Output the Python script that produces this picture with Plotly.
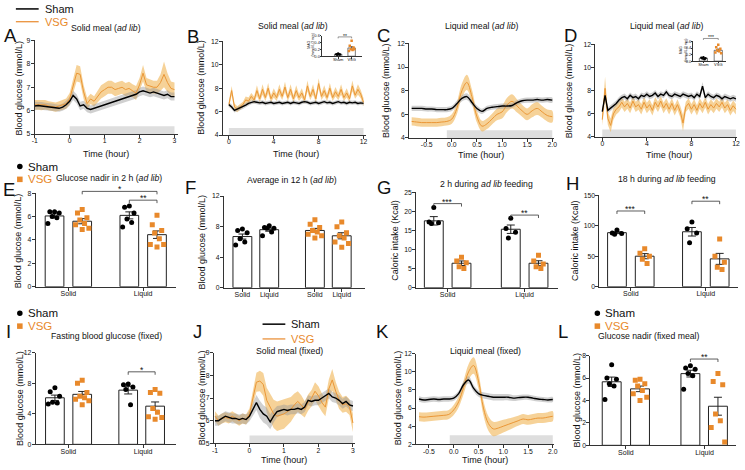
import plotly.graph_objects as go

W, H = 745, 470
FONT = "Liberation Sans, Arial, Helvetica, sans-serif"
ORANGE = "#E8892B"
ORANGE_LINE = "#EA9636"
ORANGE_BAND = "rgba(241,182,88,0.62)"
GRAY_BAND = "rgba(150,150,150,0.45)"
MEAL_FILL = "#DEDEDE"
AXC = "#333333"

# ======================= DATA =======================
# ---- A: Solid meal (ad lib), -1..3 h ----
A_time = [round(-1.0 + 0.1 * i, 1) for i in range(41)]
A_sham = [6.20, 6.22, 6.20, 6.18, 6.17, 6.15, 6.12, 6.10, 6.15, 6.25,
          6.40, 6.65, 6.50, 6.20, 6.25, 6.10, 6.05, 6.10, 6.15, 6.20,
          6.25, 6.30, 6.35, 6.40, 6.45, 6.50, 6.55, 6.60, 6.65, 6.70,
          6.80, 6.85, 6.80, 6.75, 6.80, 6.75, 6.70, 6.65, 6.70, 6.60,
          6.60]
A_sham_sem = [0.18, 0.17, 0.17, 0.16, 0.16, 0.15, 0.15, 0.15, 0.16, 0.17,
              0.18, 0.20, 0.20, 0.18, 0.17, 0.17, 0.17, 0.17, 0.17, 0.18,
              0.18, 0.18, 0.18, 0.18, 0.18, 0.18, 0.18, 0.18, 0.18, 0.18,
              0.18, 0.18, 0.18, 0.18, 0.18, 0.18, 0.17, 0.17, 0.17, 0.17,
              0.17]
A_vsg = [6.25, 6.25, 6.22, 6.25, 6.20, 6.18, 6.15, 6.20, 6.25, 6.30,
         6.50, 7.10, 7.60, 7.55, 6.80, 6.30, 6.50, 6.40, 6.60, 6.80,
         6.90, 7.00, 7.00, 6.90, 6.95, 7.00, 6.90, 6.95, 6.85, 6.75,
         7.10, 7.60, 7.10, 7.05, 7.00, 7.00, 7.20, 7.55, 7.20, 6.95,
         6.90]
A_vsg_sem = [0.20, 0.20, 0.20, 0.20, 0.20, 0.20, 0.20, 0.20, 0.20, 0.22,
             0.25, 0.30, 0.35, 0.35, 0.30, 0.25, 0.22, 0.22, 0.25, 0.28,
             0.28, 0.28, 0.28, 0.28, 0.28, 0.28, 0.28, 0.28, 0.28, 0.30,
             0.30, 0.35, 0.30, 0.30, 0.28, 0.28, 0.35, 0.55, 0.40, 0.30,
             0.30]

# ---- B: Solid meal (ad lib), 0..12 h ----
B_time = [0.25 * i for i in range(49)]
B_sham = [6.60, 6.40, 6.10, 6.20, 6.30, 6.40, 6.55, 6.70,
          6.80, 6.85, 6.80, 6.75, 6.80, 6.70, 6.75, 6.80,
          6.70, 6.75, 6.80, 6.70, 6.75, 6.80, 6.70, 6.80,
          6.75, 6.70, 6.80, 6.85, 6.80, 6.70, 6.75, 6.80,
          6.70, 6.80, 6.85, 6.75, 6.80, 6.70, 6.80, 6.85,
          6.75, 6.80, 6.70, 6.80, 6.75, 6.80, 6.70, 6.75,
          6.70]
B_sham_sem = [0.20, 0.20, 0.18, 0.18, 0.18, 0.18, 0.18, 0.18,
              0.18, 0.18, 0.18, 0.18, 0.18, 0.18, 0.18, 0.18,
              0.17, 0.17, 0.17, 0.17, 0.17, 0.17, 0.17, 0.17,
              0.17, 0.17, 0.17, 0.17, 0.17, 0.17, 0.17, 0.17,
              0.17, 0.17, 0.17, 0.17, 0.17, 0.17, 0.17, 0.17,
              0.17, 0.17, 0.17, 0.17, 0.17, 0.17, 0.17, 0.17,
              0.18]
B_vsg = [6.60, 7.80, 6.40, 6.20, 6.40, 6.60, 7.00, 6.90,
         7.30, 7.00, 7.80, 7.10, 7.90, 7.20, 8.00, 7.10,
         7.60, 7.20, 7.90, 7.30, 8.10, 7.20, 7.90, 7.10,
         7.80, 7.20, 7.60, 7.00, 8.20, 7.30, 7.90, 7.10,
         8.40, 7.30, 7.80, 7.20, 8.00, 7.20, 7.70, 7.30,
         7.90, 7.20, 7.60, 7.10, 8.20, 7.40, 7.90, 7.50,
         6.80]
B_vsg_sem = [0.30, 0.40, 0.30, 0.25, 0.25, 0.25, 0.30, 0.30,
             0.30, 0.30, 0.45, 0.30, 0.45, 0.30, 0.45, 0.30,
             0.40, 0.30, 0.45, 0.30, 0.45, 0.30, 0.45, 0.30,
             0.45, 0.30, 0.40, 0.30, 0.45, 0.30, 0.45, 0.30,
             0.45, 0.30, 0.45, 0.30, 0.45, 0.30, 0.40, 0.30,
             0.45, 0.30, 0.40, 0.30, 0.45, 0.30, 0.45, 0.35,
             0.35]
B_mag_sham = [0.08, 0.06, 0.05, 0.04, 0.05]
B_mag_vsg = [0.45, 0.30, 0.25, 0.20, 0.18, 0.15, 0.20]
B_mag_means = [0.06, 0.24]
B_mag_sems = [0.01, 0.04]

# ---- C: Liquid meal (ad lib), -0.8..2.0 h ----
C_time = [round(-0.8 + 0.1 * i, 1) for i in range(29)]
C_sham = [6.50, 6.50, 6.50, 6.45, 6.45, 6.40, 6.40, 6.40, 6.50, 6.90,
          7.35, 7.50, 7.00, 6.50, 6.25, 6.50, 6.60, 6.65, 6.70, 6.70,
          6.75, 7.00, 7.15, 7.20, 7.20, 7.25, 7.20, 7.25, 7.20]
C_sham_sem = [0.22, 0.22, 0.22, 0.22, 0.22, 0.22, 0.22, 0.22, 0.22, 0.24,
              0.26, 0.28, 0.26, 0.24, 0.22, 0.22, 0.22, 0.22, 0.22, 0.22,
              0.22, 0.22, 0.22, 0.22, 0.22, 0.22, 0.22, 0.22, 0.22]
C_vsg = [5.40, 5.35, 5.30, 5.30, 5.30, 5.30, 5.35, 5.40, 5.60, 6.50,
         8.00, 8.70, 7.50, 5.80, 5.00, 5.20, 5.60, 6.00, 6.20, 6.80,
         7.10, 6.70, 6.30, 6.00, 6.30, 6.50, 6.20, 5.90, 5.80]
C_vsg_sem = [0.35, 0.35, 0.35, 0.35, 0.35, 0.35, 0.35, 0.35, 0.40, 0.50,
             0.60, 0.65, 0.60, 0.50, 0.45, 0.45, 0.45, 0.50, 0.55, 0.60,
             0.60, 0.55, 0.50, 0.50, 0.55, 0.55, 0.50, 0.50, 0.50]

# ---- D: Liquid meal (ad lib), 0..12 h ----
D_time = [0.25 * i for i in range(49)]
D_sham = [6.20, 7.60, 6.30, 6.50, 6.70, 6.90, 7.20, 7.40,
          7.50, 7.30, 7.60, 7.40, 7.50, 7.30, 7.60, 7.50,
          7.70, 7.50, 7.60, 7.80, 7.50, 7.70, 7.60, 7.90,
          7.60, 7.50, 7.70, 7.60, 7.50, 7.70, 7.60, 7.50,
          7.60, 7.40, 7.70, 7.50, 8.40, 7.40, 7.70, 7.50,
          7.40, 7.60, 7.50, 7.30, 7.50, 7.40, 7.30, 7.40,
          7.30]
D_sham_sem = [0.25, 0.30, 0.25, 0.25, 0.25, 0.25, 0.25, 0.25,
              0.25, 0.25, 0.25, 0.25, 0.25, 0.25, 0.25, 0.25,
              0.25, 0.25, 0.25, 0.25, 0.25, 0.25, 0.25, 0.25,
              0.25, 0.25, 0.25, 0.25, 0.25, 0.25, 0.25, 0.25,
              0.25, 0.25, 0.25, 0.25, 0.35, 0.25, 0.25, 0.25,
              0.25, 0.25, 0.25, 0.25, 0.25, 0.25, 0.25, 0.25,
              0.25]
D_vsg = [5.50, 8.20, 5.60, 5.00, 6.00, 6.40, 6.60, 7.00,
         6.60, 6.90, 6.50, 7.10, 6.60, 6.80, 6.40, 7.00,
         6.50, 6.80, 6.30, 7.00, 6.60, 7.10, 6.50, 6.90,
         6.40, 6.90, 6.30, 6.80, 6.20, 5.20, 6.60, 6.90,
         6.40, 6.80, 6.30, 6.90, 6.50, 7.00, 6.40, 6.80,
         6.50, 6.90, 6.60, 7.00, 6.50, 6.80, 6.30, 6.70,
         6.40]
D_vsg_sem = [0.50, 1.00, 0.55, 0.60, 0.50, 0.45, 0.45, 0.45,
             0.45, 0.45, 0.45, 0.45, 0.45, 0.45, 0.45, 0.45,
             0.45, 0.45, 0.45, 0.45, 0.45, 0.45, 0.45, 0.45,
             0.45, 0.45, 0.45, 0.45, 0.50, 0.70, 0.45, 0.45,
             0.45, 0.45, 0.45, 0.45, 0.45, 0.45, 0.45, 0.45,
             0.45, 0.45, 0.45, 0.45, 0.45, 0.45, 0.45, 0.45,
             0.45]
D_mag_sham = [0.12, 0.10, 0.09, 0.08, 0.06]
D_mag_vsg = [0.50, 0.42, 0.38, 0.33, 0.30, 0.26, 0.24]
D_mag_means = [0.09, 0.33]
D_mag_sems = [0.01, 0.04]

# ---- E: Glucose nadir in 2 h (ad lib) ----
E_pts = {
    "sham_solid": [6.4, 6.4, 6.3, 6.0, 5.9, 5.4],
    "vsg_solid": [6.6, 6.3, 5.9, 5.7, 5.4, 5.3, 5.0, 4.9],
    "sham_liquid": [6.9, 6.8, 6.3, 5.8, 5.5, 5.1],
    "vsg_liquid": [6.1, 5.3, 4.8, 4.6, 4.1, 3.6, 3.6, 3.4],
}
E_means = [6.05, 5.6, 6.1, 4.45]
E_sems = [0.17, 0.22, 0.30, 0.32]

# ---- F: Average in 12 h (ad lib) ----
F_pts = {
    "sham_solid": [7.7, 7.5, 7.2, 6.4, 6.0, 5.6],
    "sham_liquid": [8.1, 7.9, 7.8, 7.8, 7.3, 6.8],
    "vsg_solid": [8.9, 8.3, 7.9, 7.5, 7.3, 7.0, 6.8, 6.5],
    "vsg_liquid": [8.6, 8.0, 7.2, 6.8, 6.5, 6.0, 5.8, 5.3],
}
F_means = [6.7, 7.6, 7.5, 6.8]
F_sems = [0.33, 0.20, 0.27, 0.40]

# ---- G: 2 h during ad lib feeding (Kcal) ----
G_pts = {
    "sham_solid": [21.0, 17.2, 17.0, 16.8],
    "vsg_solid": [8.0, 7.0, 6.5, 5.5, 5.0],
    "sham_liquid": [18.2, 15.5, 14.5, 13.0],
    "vsg_liquid": [8.5, 7.0, 6.2, 5.5, 5.0],
}
G_means = [17.5, 6.4, 15.3, 6.4]
G_sems = [1.1, 0.6, 1.1, 0.65]

# ---- H: 18 h during ad lib feeding (Kcal) ----
H_pts = {
    "sham_solid": [93, 88, 87, 86],
    "vsg_solid": [62, 55, 50, 45, 38],
    "sham_liquid": [106, 95, 88, 72],
    "vsg_liquid": [78, 50, 40, 32, 28],
}
H_means = [88.5, 50, 90, 45.6]
H_sems = [1.5, 4.2, 7.0, 9.0]

# ---- I: Fasting blood glucose (fixed) ----
I_pts = {
    "sham_solid": [7.4, 6.9, 6.3, 5.5, 5.4, 5.3],
    "vsg_solid": [8.4, 8.0, 6.8, 6.3, 6.1, 5.9, 5.7, 5.2],
    "sham_liquid": [7.9, 7.8, 7.5, 7.2, 5.2],
    "vsg_liquid": [7.2, 6.8, 6.7, 4.7, 4.2, 3.6, 3.5, 3.3],
}
I_means = [6.1, 6.55, 7.1, 5.0]
I_sems = [0.35, 0.38, 0.50, 0.55]

# ---- J: Solid meal (fixed), -1..3 h ----
J_time = [round(-1.0 + 0.1 * i, 1) for i in range(41)]
J_sham = [6.00, 6.00, 6.10, 6.20, 6.15, 6.10, 6.10, 6.05, 6.10, 6.05,
          6.20, 6.50, 6.80, 6.50, 6.30, 6.20, 5.95, 6.20, 6.40, 6.45,
          6.50, 6.45, 6.50, 6.50, 6.55, 6.50, 6.60, 6.90, 6.85, 6.90,
          6.90, 7.00, 7.10, 7.20, 7.05, 7.00, 6.90, 6.75, 6.85, 6.70,
          6.65]
J_sham_sem = [0.22, 0.22, 0.22, 0.22, 0.22, 0.22, 0.22, 0.22, 0.22, 0.22,
              0.22, 0.28, 0.33, 0.38, 0.38, 0.38, 0.33, 0.28, 0.25, 0.22,
              0.22, 0.22, 0.22, 0.22, 0.22, 0.22, 0.22, 0.22, 0.22, 0.22,
              0.22, 0.22, 0.22, 0.22, 0.22, 0.22, 0.22, 0.22, 0.22, 0.22,
              0.22]
J_vsg = [6.20, 6.00, 6.10, 6.15, 6.10, 6.20, 6.10, 6.00, 6.10, 6.05,
         6.30, 7.00, 7.70, 7.75, 7.60, 6.90, 6.60, 6.30, 6.20, 6.25,
         6.30, 6.40, 6.50, 6.70, 6.85, 6.70, 6.50, 6.80, 7.00, 7.30,
         7.10, 6.80, 6.60, 7.40, 7.80, 7.30, 6.90, 6.70, 6.75, 6.60,
         5.90]
J_vsg_sem = [0.22, 0.22, 0.22, 0.22, 0.22, 0.22, 0.22, 0.22, 0.22, 0.22,
             0.25, 0.35, 0.42, 0.45, 0.50, 0.55, 0.60, 0.62, 0.65, 0.65,
             0.65, 0.60, 0.55, 0.50, 0.45, 0.42, 0.36, 0.36, 0.36, 0.40,
             0.42, 0.40, 0.40, 0.42, 0.48, 0.42, 0.38, 0.35, 0.35, 0.35,
             0.40]

# ---- K: Liquid meal (fixed), -0.7..2.0 h ----
K_time = [round(-0.7 + 0.1 * i, 1) for i in range(28)]
K_sham = [7.00, 6.90, 6.95, 7.00, 6.95, 7.00, 7.00, 7.10, 7.60, 8.60,
          9.10, 8.20, 7.60, 7.40, 7.30, 7.20, 7.20, 7.20, 7.20, 7.10,
          7.15, 7.20, 7.20, 7.10, 7.00, 6.95, 6.90, 6.95]
K_sham_sem = [0.30, 0.30, 0.30, 0.30, 0.30, 0.30, 0.30, 0.30, 0.32, 0.35,
              0.40, 0.38, 0.35, 0.35, 0.35, 0.35, 0.35, 0.35, 0.35, 0.32,
              0.30, 0.30, 0.30, 0.28, 0.28, 0.28, 0.28, 0.28]
K_vsg = [5.05, 5.00, 5.05, 5.10, 5.15, 5.20, 5.30, 5.80, 6.70, 8.30,
         10.00, 10.70, 9.00, 6.00, 4.30, 3.70, 3.80, 4.00, 4.20, 4.40,
         4.60, 4.80, 4.70, 4.80, 4.90, 4.90, 5.00, 5.10]
K_vsg_sem = [0.50, 0.50, 0.50, 0.50, 0.50, 0.50, 0.50, 0.55, 0.60, 0.75,
             0.85, 0.90, 0.85, 0.80, 0.80, 0.80, 0.75, 0.70, 0.65, 0.60,
             0.55, 0.55, 0.55, 0.55, 0.55, 0.55, 0.55, 0.55]

# ---- L: Glucose nadir (fixed meal) ----
L_pts = {
    "sham_solid": [7.2, 6.0, 5.9, 5.5, 5.3, 4.1],
    "vsg_solid": [5.9, 5.8, 5.5, 5.3, 4.9, 4.6, 4.3, 4.0],
    "sham_liquid": [7.1, 6.9, 6.8, 6.4, 6.2, 5.0],
    "vsg_liquid": [6.4, 5.7, 5.4, 2.8, 2.2, 1.6, 0.3],
}
L_means = [5.67, 5.04, 6.4, 3.49]
L_sems = [0.42, 0.25, 0.30, 0.80]

# tick labels
CAT_LABELS = ["Solid", "Liquid"]
F_LABELS = ["Solid", "Liquid", "Solid", "Liquid"]
INSET_LABELS = ["Sham", "VSG"]

for name, a, b in [("A", A_sham, A_time), ("A2", A_vsg, A_time), ("B", B_sham, B_time), ("B2", B_vsg, B_time),
                   ("C", C_sham, C_time), ("C2", C_vsg, C_time), ("D", D_sham, D_time), ("D2", D_vsg, D_time),
                   ("J", J_sham, J_time), ("J2", J_vsg, J_time), ("K", K_sham, K_time), ("K2", K_vsg, K_time),
                   ("As", A_sham_sem, A_time), ("As2", A_vsg_sem, A_time), ("Bs", B_sham_sem, B_time),
                   ("Bs2", B_vsg_sem, B_time), ("Cs", C_sham_sem, C_time), ("Cs2", C_vsg_sem, C_time),
                   ("Ds", D_sham_sem, D_time), ("Ds2", D_vsg_sem, D_time), ("Js", J_sham_sem, J_time),
                   ("Js2", J_vsg_sem, J_time), ("Ks", K_sham_sem, K_time), ("Ks2", K_vsg_sem, K_time)]:
    if len(a) != len(b):
        raise ValueError(f"length mismatch {name}: {len(a)} vs {len(b)}")

# ======================= FIGURE =======================
fig = go.Figure()
layout = {}
shapes = []
annotations = []
AXES = {}


def ref(i):
    return ("x" if i == 1 else f"x{i}"), ("y" if i == 1 else f"y{i}")


def make_axes(i, l, r, t, b, xr, yr, xtv, xtt, ytv, ytt, tsize=6.8, xtsize=None, ticklen=3, lw=1,
              xstand=-3, ystand=-1):
    xa = "xaxis" if i == 1 else f"xaxis{i}"
    ya = "yaxis" if i == 1 else f"yaxis{i}"
    xr_, yr_ = ref(i)
    AXES[i] = (l, r, t, b, xr, yr)
    common = dict(showline=True, linecolor=AXC, linewidth=lw, ticks="outside", ticklen=ticklen,
                  tickwidth=lw, tickcolor=AXC, showgrid=False, zeroline=False, fixedrange=True)
    layout[xa] = dict(domain=[l / W, r / W], range=xr, anchor=yr_, tickmode="array", tickvals=xtv,
                      ticktext=xtt, ticklabelstandoff=xstand,
                      tickfont=dict(family=FONT, size=xtsize or tsize, color="#111"), **common)
    layout[ya] = dict(domain=[1 - b / H, 1 - t / H], range=yr, anchor=xr_, tickmode="array", tickvals=ytv,
                      ticktext=ytt, ticklabelstandoff=ystand,
                      tickfont=dict(family=FONT, size=tsize, color="#111"), **common)


def pxx(i, x):
    l, r, t, b, xr, yr = AXES[i]
    return l + (x - xr[0]) / (xr[1] - xr[0]) * (r - l)


def pxy(i, y):
    l, r, t, b, xr, yr = AXES[i]
    return b - (y - yr[0]) / (yr[1] - yr[0]) * (b - t)


def text(s, x, y, size, color="#111", xa="center", ya="middle", angle=0):
    annotations.append(dict(text=s, x=x / W, y=1 - y / H, xref="paper", yref="paper", showarrow=False,
                            xanchor=xa, yanchor=ya, textangle=angle,
                            font=dict(family=FONT, size=size, color=color)))


def band_line(i, t, mean, sem, line_color, band_color, lw, smooth=False):
    xr_, yr_ = ref(i)
    up = [m + s for m, s in zip(mean, sem)]
    lo = [m - s for m, s in zip(mean, sem)]
    shape = "spline" if smooth else "linear"
    fig.add_trace(go.Scatter(x=list(t) + list(t)[::-1], y=up + lo[::-1], fill="toself", fillcolor=band_color,
                             mode="lines", line=dict(width=0, shape=shape), xaxis=xr_, yaxis=yr_,
                             hoverinfo="skip", showlegend=False))
    return dict(x=list(t), y=mean, mode="lines", line=dict(color=line_color, width=lw, shape=shape),
                xaxis=xr_, yaxis=yr_, hoverinfo="skip", showlegend=False)


def ts_panel(i, t, sham, sham_sem, vsg, vsg_sem, smooth=False):
    l1 = band_line(i, t, vsg, vsg_sem, ORANGE_LINE, ORANGE_BAND, 1.0, smooth)
    l2 = band_line(i, t, sham, sham_sem, "#000", GRAY_BAND, 1.4, smooth)
    fig.add_trace(go.Scatter(**l1))
    fig.add_trace(go.Scatter(**l2))


def meal(i, x0, x1, y0, y1):
    xr_, yr_ = ref(i)
    shapes.append(dict(type="rect", xref=xr_, yref=yr_, x0=x0, x1=x1, y0=y0, y1=y1,
                       fillcolor=MEAL_FILL, line=dict(width=0), layer="below"))


PATTERN = [0.0, -0.6, 0.6, -0.3, 0.3, -0.85, 0.85, 0.0, -0.45, 0.45]


def bar_group(i, pos, mean, sem, pts, sham, bw, msize=5, blw=1.0, ew=4):
    xr_, yr_ = ref(i)
    fig.add_trace(go.Bar(x=[pos], y=[mean], width=bw, xaxis=xr_, yaxis=yr_,
                         marker=dict(color="white", line=dict(color="#222", width=blw)),
                         error_y=dict(type="data", array=[sem], color="#222", thickness=blw, width=ew),
                         hoverinfo="skip", showlegend=False))
    offs = [pos + PATTERN[k % len(PATTERN)] * bw * 0.42 for k in range(len(pts))]
    fig.add_trace(go.Scatter(x=offs, y=pts, mode="markers", xaxis=xr_, yaxis=yr_,
                             marker=dict(symbol="circle" if sham else "square", size=msize,
                                         color="#000" if sham else ORANGE, line=dict(width=0)),
                             hoverinfo="skip", showlegend=False))


def bracket(i, x1, x2, yv, s, drop=3, size=8.5, lw=0.8):
    X1, X2, Yp = pxx(i, x1), pxx(i, x2), pxy(i, yv)
    path = (f"M {X1 / W},{1 - (Yp + drop) / H} L {X1 / W},{1 - Yp / H} "
            f"L {X2 / W},{1 - Yp / H} L {X2 / W},{1 - (Yp + drop) / H}")
    shapes.append(dict(type="path", xref="paper", yref="paper", path=path, line=dict(color=AXC, width=lw)))
    # asterisks sit high in their line box: anchor the box middle just above the bar
    text(s, (X1 + X2) / 2, Yp - 0.25 * size, size, ya="middle")


def legend_lines(x, y1, y2, size=11):
    shapes.append(dict(type="line", xref="paper", yref="paper", x0=x / W, x1=(x + 23) / W,
                       y0=1 - y1 / H, y1=1 - y1 / H, line=dict(color="#000", width=1.5)))
    shapes.append(dict(type="line", xref="paper", yref="paper", x0=x / W, x1=(x + 23) / W,
                       y0=1 - y2 / H, y1=1 - y2 / H, line=dict(color=ORANGE, width=1.2)))
    text("Sham", x + 27, y1, size, "#111", xa="left")
    text("VSG", x + 27, y2, size, ORANGE, xa="left")


def legend_marks(x, y1, y2, size=11.5):
    r = 2.8
    shapes.append(dict(type="circle", xref="paper", yref="paper", x0=(x - r) / W, x1=(x + r) / W,
                       y0=1 - (y1 + r) / H, y1=1 - (y1 - r) / H, fillcolor="#000", line=dict(width=0)))
    shapes.append(dict(type="rect", xref="paper", yref="paper", x0=(x - r) / W, x1=(x + r) / W,
                       y0=1 - (y2 + r) / H, y1=1 - (y2 - r) / H, fillcolor=ORANGE, line=dict(width=0)))
    text("Sham", x + 6, y1, size, "#111", xa="left")
    text("VSG", x + 6, y2, size, ORANGE, xa="left")


def bar_panel(i, positions, means, sems, pts_dict, order, bw):
    for k, key in enumerate(order):
        bar_group(i, positions[k], means[k], sems[k], pts_dict[key], key.startswith("sham"), bw)


YLAB = "Blood glucose (mmol/L)"
TLAB = "Time (hour)"
TITLE_SIZE = 8.7
AXT_SIZE = 9
LET_SIZE = 18.5

# ---------------- Row 1 ----------------
# A
make_axes(1, 32, 177, 37, 132, [-1.0, 3.11], [5, 9], [-1, 0, 1, 2, 3], ["-1", "0", "1", "2", "3"],
          [5, 6, 7, 8, 9], ["5", "6", "7", "8", "9"])
meal(1, 0, 3, 5, 5.33)
ts_panel(1, A_time, A_sham, A_sham_sem, A_vsg, A_vsg_sem)
text(YLAB, 16, 85, AXT_SIZE, angle=-90)
text(TLAB, 104, 152, AXT_SIZE)
text("Solid meal (<i>ad lib</i>)", 104, 24, TITLE_SIZE)
text("A", 7.5, 31.5, LET_SIZE)
legend_lines(13, 5, 18)

# B
make_axes(2, 222, 366, 38, 133, [-0.53, 12.18], [4, 12], [0, 4, 8, 12], ["0", "4", "8", "12"],
          [4, 6, 8, 10, 12], ["4", "6", "8", "10", "12"])
meal(2, 0, 12, 4, 4.6)
ts_panel(2, B_time, B_sham, B_sham_sem, B_vsg, B_vsg_sem)
text(YLAB, 200, 85, AXT_SIZE, angle=-90)
text(TLAB, 296, 152, AXT_SIZE)
text("Solid meal (<i>ad lib</i>)", 293, 22, TITLE_SIZE)
text("B", 192, 32.5, LET_SIZE)

# B inset
make_axes(3, 322, 362, 32, 53, [-1.2, 1.74], [0, 0.6], [0, 1], INSET_LABELS,
          [0, 0.2, 0.4, 0.6], ["0.0", "0.2", "0.4", "0.6"], tsize=4, ticklen=1.5, lw=0.6, xstand=-2, ystand=-1)
for k in range(2):
    bar_group(3, k, B_mag_means[k], B_mag_sems[k], [B_mag_sham, B_mag_vsg][k], k == 0, 0.55,
              msize=2.5, blw=0.6, ew=1.5)
bracket(3, 0, 1, 0.56, "**", drop=1.5, size=5, lw=0.5)
text("MAG<br>(mmol/L/2 min)", 311, 42, 3.5, angle=-90)

# C
make_axes(4, 410, 556, 40, 136, [-0.85, 2.03], [4, 12], [-0.5, 0, 0.5, 1.0, 1.5, 2.0],
          ["-0.5", "0.0", "0.5", "1.0", "1.5", "2.0"], [4, 6, 8, 10, 12], ["4", "6", "8", "10", "12"])
meal(4, -0.1, 2.0, 4, 4.65)
ts_panel(4, C_time, C_sham, C_sham_sem, C_vsg, C_vsg_sem, smooth=True)
text(YLAB, 386, 88, AXT_SIZE, angle=-90)
text(TLAB, 483, 153, AXT_SIZE)
text("Liquid meal (<i>ad lib</i>)", 484, 22, TITLE_SIZE)
text("C", 384, 32, LET_SIZE)

# D
make_axes(5, 598, 741, 41, 135, [-0.62, 12.1], [4, 12], [0, 4, 8, 12], ["0", "4", "8", "12"],
          [4, 6, 8, 10, 12], ["4", "6", "8", "10", "12"])
meal(5, 0, 12, 4, 4.65)
ts_panel(5, D_time, D_sham, D_sham_sem, D_vsg, D_vsg_sem)
text(YLAB, 571, 88, AXT_SIZE, angle=-90)
text(TLAB, 672, 153, AXT_SIZE)
text("Liquid meal (<i>ad lib</i>)", 670, 22.5, TITLE_SIZE)
text("D", 573, 32, LET_SIZE)

# D inset
make_axes(6, 697, 730, 38, 58, [-0.67, 1.53], [0, 0.6], [0, 1], INSET_LABELS,
          [0, 0.2, 0.4, 0.6], ["0.0", "0.2", "0.4", "0.6"], tsize=4, ticklen=1.5, lw=0.6, xstand=-2, ystand=-1)
for k in range(2):
    bar_group(6, k, D_mag_means[k], D_mag_sems[k], [D_mag_sham, D_mag_vsg][k], k == 0, 0.55,
              msize=2.5, blw=0.6, ew=1.5)
bracket(6, 0, 1, 0.69, "***", drop=1.5, size=5, lw=0.5)
text("MAG<br>(mmol/L/2 min)", 687, 47, 3.5, angle=-90)

# ---------------- Row 2 ----------------
ORDER_SV = ["sham_solid", "vsg_solid", "sham_liquid", "vsg_liquid"]
POS_GRP = [-0.185, 0.185, 0.815, 1.185]

# E
make_axes(7, 33, 175, 192, 287, [-0.437, 1.444], [0, 8], [0, 1], CAT_LABELS,
          [0, 2, 4, 6, 8], ["0", "2", "4", "6", "8"], xtsize=7)
bar_panel(7, POS_GRP, E_means, E_sems, E_pts, ORDER_SV, 0.25)
bracket(7, 0.185, 1.185, 8.15, "*")
bracket(7, 0.815, 1.185, 7.4, "**")
text(YLAB, 16, 240, AXT_SIZE, angle=-90)
text("Glucose nadir in 2 h (<i>ad lib</i>)", 107, 176.5, TITLE_SIZE)
text("E", 6, 188, LET_SIZE)
legend_marks(17, 165, 178)

# F
make_axes(8, 223, 365, 195, 288, [-0.44, 1.5], [0, 12], [-0.185, 0.185, 0.815, 1.185], F_LABELS,
          [0, 4, 8, 12], ["0", "4", "8", "12"], xtsize=7)
bar_panel(8, POS_GRP, F_means, F_sems, F_pts, ["sham_solid", "sham_liquid", "vsg_solid", "vsg_liquid"], 0.26)
text(YLAB, 201, 242, AXT_SIZE, angle=-90)
text("Average in 12 h (<i>ad lib</i>)", 292, 179, TITLE_SIZE)
text("F", 189, 186, LET_SIZE)

# G
make_axes(9, 417, 560, 191, 288, [-0.41, 1.43], [0, 25], [0, 1], CAT_LABELS,
          [0, 5, 10, 15, 20, 25], ["0", "5", "10", "15", "20", "25"], xtsize=7)
bar_panel(9, [-0.18, 0.18, 0.82, 1.18], G_means, G_sems, G_pts, ORDER_SV, 0.245)
bracket(9, -0.18, 0.18, 22.0, "***")
bracket(9, 0.82, 1.18, 19.0, "**")
text("Caloric intake (Kcal)", 396, 240, AXT_SIZE, angle=-90)
text("2 h during <i>ad lib</i> feeding", 488, 183, TITLE_SIZE)
text("G", 385, 186, LET_SIZE)

# H
make_axes(10, 602, 742, 194, 287, [-0.42, 1.43], [0, 150], [0, 1], CAT_LABELS,
          [0, 50, 100, 150], ["0", "50", "100", "150"], xtsize=7)
bar_panel(10, [-0.185, 0.185, 0.815, 1.185], H_means, H_sems, H_pts, ORDER_SV, 0.25)
bracket(10, -0.185, 0.185, 124, "***")
bracket(10, 0.815, 1.185, 140, "**")
text("Caloric intake (Kcal)", 578, 240, AXT_SIZE, angle=-90)
text("18 h during <i>ad lib</i> feeding", 670, 178, TITLE_SIZE)
text("H", 575, 182, LET_SIZE)

# ---------------- Row 3 ----------------
# I
make_axes(11, 33, 175, 354, 447, [-0.437, 1.444], [0, 12], [0, 1], CAT_LABELS,
          [0, 4, 8, 12], ["0", "4", "8", "12"], xtsize=7)
bar_panel(11, [-0.18, 0.185, 0.80, 1.16], I_means, I_sems, I_pts, ORDER_SV, 0.25)
bracket(11, 0.80, 1.16, 9.5, "*")
text(YLAB, 17, 400, AXT_SIZE, angle=-90)
text("Fasting blood glucose (fixed)", 104, 337, TITLE_SIZE)
text("I", 5.5, 332, LET_SIZE)
legend_marks(17, 314, 327)

# J
make_axes(12, 213, 355, 354, 446, [-1.03, 3.05], [5, 9], [-1, 0, 1, 2, 3], ["-1", "0", "1", "2", "3"],
          [5, 6, 7, 8, 9], ["5", "6", "7", "8", "9"])
meal(12, 0, 3, 5, 5.35)
ts_panel(12, J_time, J_sham, J_sham_sem, J_vsg, J_vsg_sem)
text(YLAB, 201, 400, AXT_SIZE, angle=-90)
text(TLAB, 284, 463, AXT_SIZE)
text("Solid meal (fixed)", 289, 352, TITLE_SIZE)
text("J", 196, 332, LET_SIZE)
legend_lines(262, 325, 340)

# K
make_axes(13, 417, 556, 355, 447, [-0.76, 2.02], [2, 12], [-0.5, 0, 0.5, 1.0, 1.5, 2.0],
          ["-0.5", "0.0", "0.5", "1.0", "1.5", "2.0"], [2, 4, 6, 8, 10, 12],
          ["2", "4", "6", "8", "10", "12"])
meal(13, -0.08, 2.0, 2, 3.0)
ts_panel(13, K_time, K_sham, K_sham_sem, K_vsg, K_vsg_sem, smooth=True)
text(YLAB, 399, 400, AXT_SIZE, angle=-90)
text(TLAB, 487, 463, AXT_SIZE)
text("Liquid meal (fixed)", 487, 352, TITLE_SIZE)
text("K", 383, 332, LET_SIZE)

# L
make_axes(14, 593, 740, 357, 448, [-0.45, 1.40], [0, 8], [0, 1], CAT_LABELS,
          [0, 2, 4, 6, 8], ["0", "2", "4", "6", "8"], xtsize=7)
bar_panel(14, [-0.18, 0.18, 0.82, 1.17], L_means, L_sems, L_pts, ORDER_SV, 0.24)
bracket(14, 0.82, 1.17, 7.7, "**")
text(YLAB, 579, 402, AXT_SIZE, angle=-90)
text("Glucose nadir (fixed meal)", 652, 337, TITLE_SIZE)
text("L", 565, 332, LET_SIZE)
legend_marks(600, 314, 327)

fig.update_layout(
    width=W, height=H, margin=dict(l=0, r=0, t=0, b=0),
    paper_bgcolor="white", plot_bgcolor="white",
    showlegend=False, barmode="overlay",
    font=dict(family=FONT, color="#111"),
    shapes=shapes, annotations=annotations,
    **layout,
)
fig.write_html("out.html", config={"displayModeBar": False},
               post_script="document.body.style.margin='0px';document.body.style.padding='0px';")
